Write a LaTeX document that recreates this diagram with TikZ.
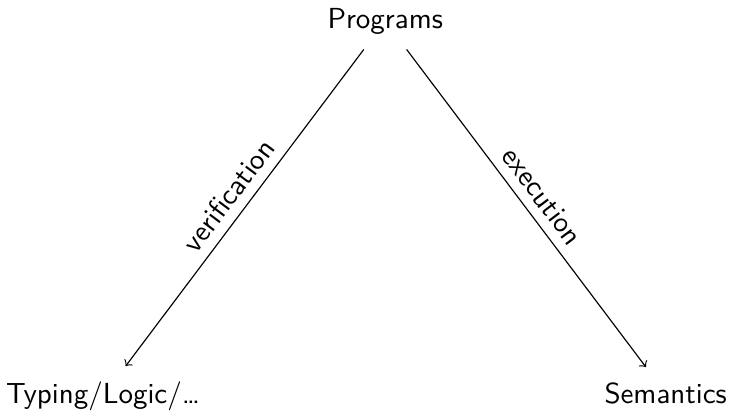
\documentclass[tikz,border=0pt]{standalone}
\usepackage{tikz}
\usepackage{amssymb}
\usepackage{amsmath}

\begin{document}
\begin{tikzpicture}[font=\sffamily]
        \useasboundingbox (0, 0) rectangle (8.85, 5.04);

        % Pieces
        \node[anchor=base, outer sep=2pt] (Prog) at (4.67, 4.70) {Programs};
        \node[anchor=base, outer sep=2pt] (Typ) at (1.25, 0.15) {Typing/Logic/…};
        \node[anchor=base, outer sep=2pt] (Sem) at (8.07, 0.15) {Semantics};

        % Arrows
        \draw[->] (Prog) -- (Typ) node[midway, above, sloped] {verification};
        \draw[->] (Prog) -- (Sem) node[midway, above, sloped] {execution};
    \end{tikzpicture}
\end{document}
